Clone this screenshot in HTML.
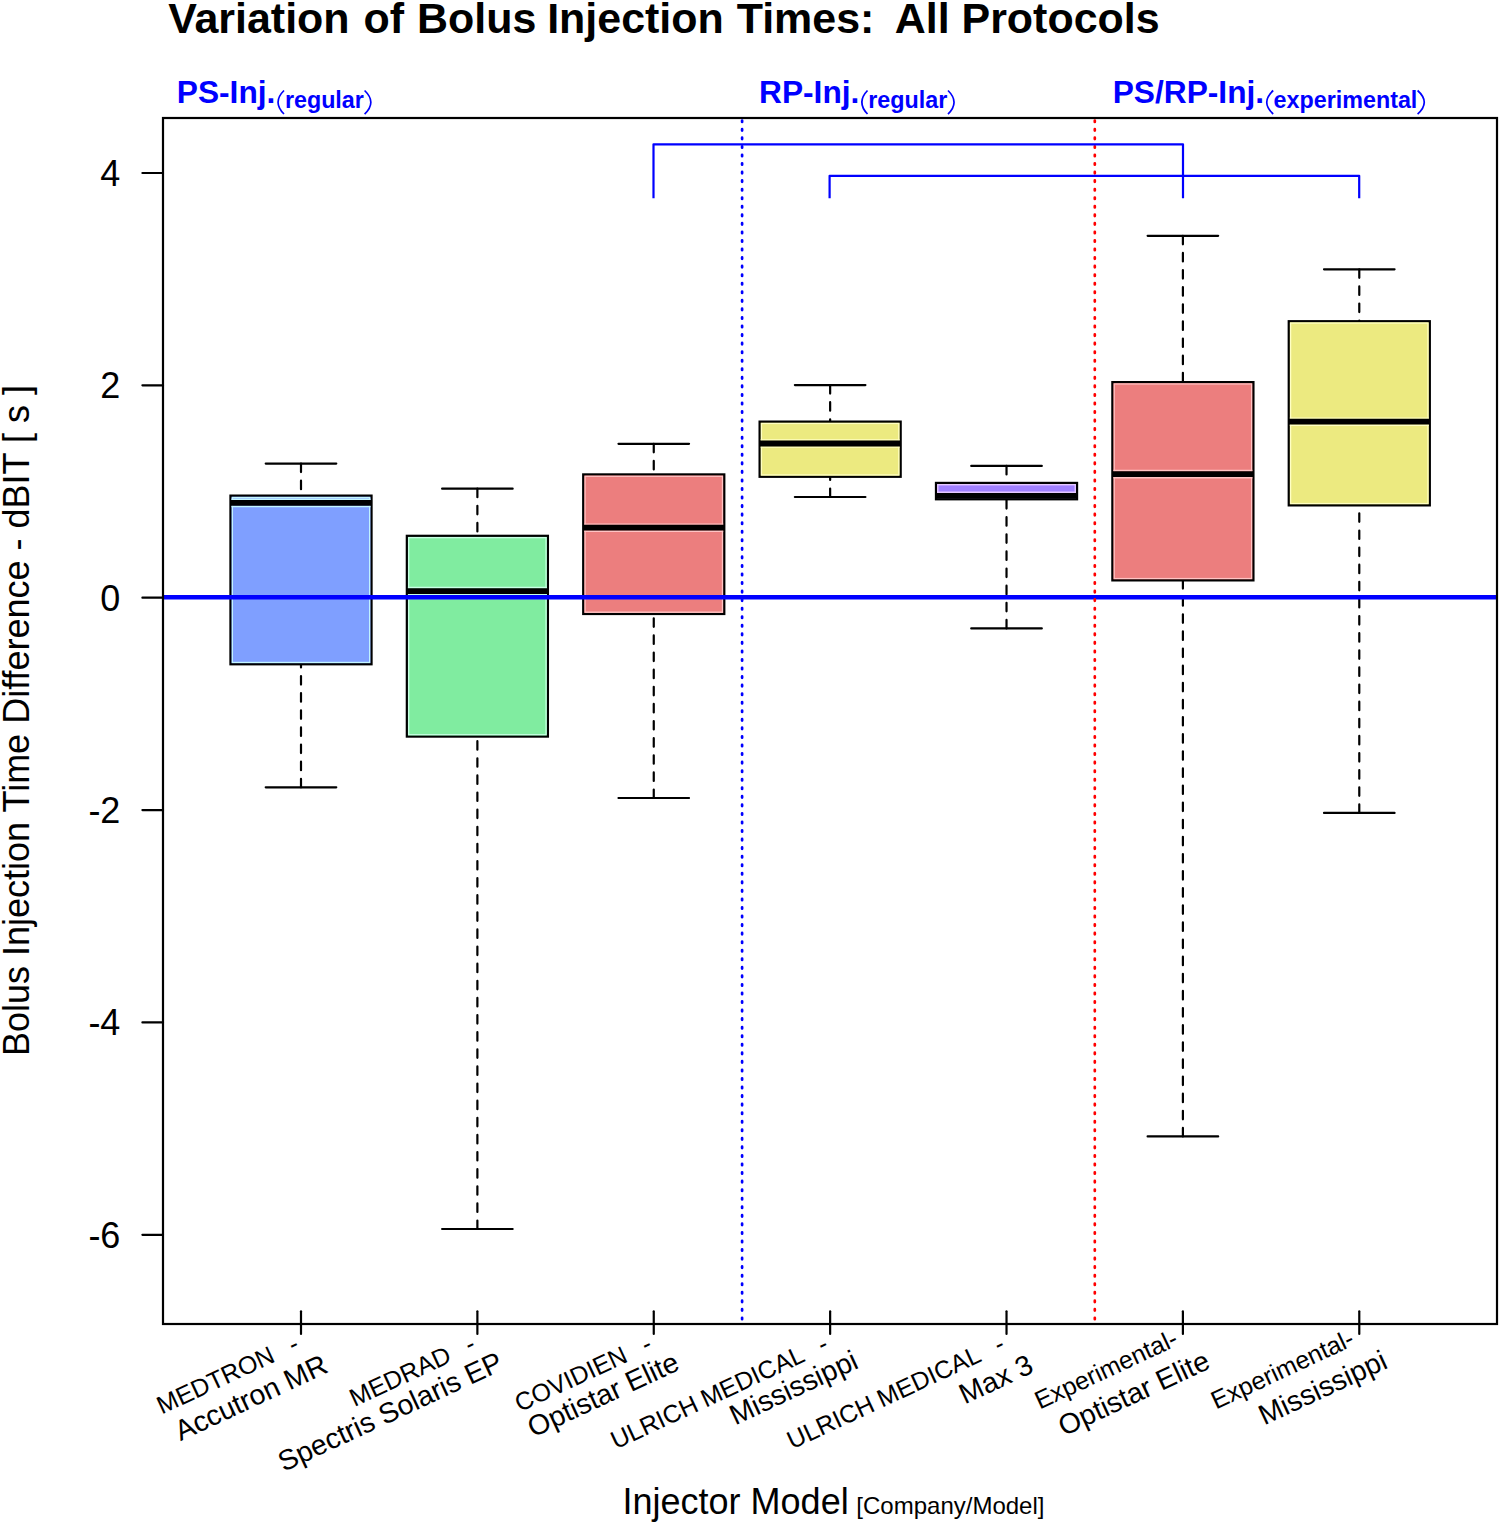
<!DOCTYPE html><html><head><meta charset="utf-8"><style>html,body{margin:0;padding:0;background:#fff;width:1499px;height:1523px;overflow:hidden}svg{display:block}text{font-family:"Liberation Sans",sans-serif;white-space:pre}</style></head><body>
<svg width="1499" height="1523" viewBox="0 0 1499 1523">
<rect x="0" y="0" width="1499" height="1523" fill="#fff"/>
<path d="M301.00 463.60V495.60M301.00 787.30V664.30" stroke="#000" stroke-width="2.2" stroke-dasharray="8.5 8.62" stroke-linecap="round" fill="none"/>
<path d="M265.72 463.60H336.28M265.72 787.30H336.28" stroke="#000" stroke-width="2.2" stroke-linecap="round" fill="none"/>
<rect x="230.45" y="495.60" width="141.10" height="168.70" fill="#7f9fff" stroke="#000" stroke-width="2.2" stroke-linejoin="miter"/>
<clipPath id="c1"><rect x="231.55" y="496.70" width="138.90" height="166.50"/></clipPath>
<g clip-path="url(#c1)" fill="none" stroke="#c4f6ff" stroke-width="1.4">
<rect x="232.25" y="497.40" width="137.50" height="165.10"/>
<path d="M230.45 499.30H371.55M230.45 506.50H371.55"/>
</g>
<path d="M230.45 502.90H371.55" stroke="#000" stroke-width="5.8" fill="none"/>
<path d="M477.38 488.70V535.80M477.38 1229.00V736.60" stroke="#000" stroke-width="2.2" stroke-dasharray="8.5 8.62" stroke-linecap="round" fill="none"/>
<path d="M442.10 488.70H512.66M442.10 1229.00H512.66" stroke="#000" stroke-width="2.2" stroke-linecap="round" fill="none"/>
<rect x="406.83" y="535.80" width="141.10" height="200.80" fill="#80eca0" stroke="#000" stroke-width="2.2" stroke-linejoin="miter"/>
<clipPath id="c2"><rect x="407.93" y="536.90" width="138.90" height="198.60"/></clipPath>
<g clip-path="url(#c2)" fill="none" stroke="#c8ffe4" stroke-width="1.4">
<rect x="408.63" y="537.60" width="137.50" height="197.20"/>
<path d="M406.83 587.50H547.93M406.83 594.70H547.93"/>
</g>
<path d="M406.83 591.10H547.93" stroke="#000" stroke-width="5.8" fill="none"/>
<path d="M653.76 443.80V474.40M653.76 798.00V614.00" stroke="#000" stroke-width="2.2" stroke-dasharray="8.5 8.62" stroke-linecap="round" fill="none"/>
<path d="M618.48 443.80H689.04M618.48 798.00H689.04" stroke="#000" stroke-width="2.2" stroke-linecap="round" fill="none"/>
<rect x="583.21" y="474.40" width="141.10" height="139.60" fill="#ec7e7e" stroke="#000" stroke-width="2.2" stroke-linejoin="miter"/>
<clipPath id="c3"><rect x="584.31" y="475.50" width="138.90" height="137.40"/></clipPath>
<g clip-path="url(#c3)" fill="none" stroke="#ffc4c4" stroke-width="1.4">
<rect x="585.01" y="476.20" width="137.50" height="136.00"/>
<path d="M583.21 524.10H724.31M583.21 531.30H724.31"/>
</g>
<path d="M583.21 527.70H724.31" stroke="#000" stroke-width="5.8" fill="none"/>
<path d="M830.14 385.10V421.60M830.14 497.00V476.80" stroke="#000" stroke-width="2.2" stroke-dasharray="8.5 8.62" stroke-linecap="round" fill="none"/>
<path d="M794.86 385.10H865.42M794.86 497.00H865.42" stroke="#000" stroke-width="2.2" stroke-linecap="round" fill="none"/>
<rect x="759.59" y="421.60" width="141.10" height="55.20" fill="#ecea80" stroke="#000" stroke-width="2.2" stroke-linejoin="miter"/>
<clipPath id="c4"><rect x="760.69" y="422.70" width="138.90" height="53.00"/></clipPath>
<g clip-path="url(#c4)" fill="none" stroke="#ffffc4" stroke-width="1.4">
<rect x="761.39" y="423.40" width="137.50" height="51.60"/>
<path d="M759.59 439.90H900.69M759.59 447.10H900.69"/>
</g>
<path d="M759.59 443.50H900.69" stroke="#000" stroke-width="5.8" fill="none"/>
<path d="M1006.52 465.90V482.90M1006.52 628.40V499.30" stroke="#000" stroke-width="2.2" stroke-dasharray="8.5 8.62" stroke-linecap="round" fill="none"/>
<path d="M971.24 465.90H1041.80M971.24 628.40H1041.80" stroke="#000" stroke-width="2.2" stroke-linecap="round" fill="none"/>
<rect x="935.97" y="482.90" width="141.10" height="16.40" fill="#a080ff" stroke="#000" stroke-width="2.2" stroke-linejoin="miter"/>
<clipPath id="c5"><rect x="937.07" y="484.00" width="138.90" height="14.20"/></clipPath>
<g clip-path="url(#c5)" fill="none" stroke="#e6c8ff" stroke-width="1.4">
<rect x="937.77" y="484.70" width="137.50" height="12.80"/>
<path d="M935.97 492.30H1077.07M935.97 499.50H1077.07"/>
</g>
<path d="M935.97 495.90H1077.07" stroke="#000" stroke-width="5.8" fill="none"/>
<path d="M1182.90 235.80V382.10M1182.90 1136.40V580.40" stroke="#000" stroke-width="2.2" stroke-dasharray="8.5 8.62" stroke-linecap="round" fill="none"/>
<path d="M1147.62 235.80H1218.18M1147.62 1136.40H1218.18" stroke="#000" stroke-width="2.2" stroke-linecap="round" fill="none"/>
<rect x="1112.35" y="382.10" width="141.10" height="198.30" fill="#ec7e7e" stroke="#000" stroke-width="2.2" stroke-linejoin="miter"/>
<clipPath id="c6"><rect x="1113.45" y="383.20" width="138.90" height="196.10"/></clipPath>
<g clip-path="url(#c6)" fill="none" stroke="#ffc4c4" stroke-width="1.4">
<rect x="1114.15" y="383.90" width="137.50" height="194.70"/>
<path d="M1112.35 470.50H1253.45M1112.35 477.70H1253.45"/>
</g>
<path d="M1112.35 474.10H1253.45" stroke="#000" stroke-width="5.8" fill="none"/>
<path d="M1359.28 269.30V321.20M1359.28 812.90V505.40" stroke="#000" stroke-width="2.2" stroke-dasharray="8.5 8.62" stroke-linecap="round" fill="none"/>
<path d="M1324.00 269.30H1394.56M1324.00 812.90H1394.56" stroke="#000" stroke-width="2.2" stroke-linecap="round" fill="none"/>
<rect x="1288.73" y="321.20" width="141.10" height="184.20" fill="#ecea80" stroke="#000" stroke-width="2.2" stroke-linejoin="miter"/>
<clipPath id="c7"><rect x="1289.83" y="322.30" width="138.90" height="182.00"/></clipPath>
<g clip-path="url(#c7)" fill="none" stroke="#ffffc4" stroke-width="1.4">
<rect x="1290.53" y="323.00" width="137.50" height="180.60"/>
<path d="M1288.73 418.10H1429.83M1288.73 425.30H1429.83"/>
</g>
<path d="M1288.73 421.70H1429.83" stroke="#000" stroke-width="5.8" fill="none"/>
<path d="M163 597.3H1497" stroke="#0000ff" stroke-width="4.6" fill="none"/>
<path d="M742.1 118V1324" stroke="#0000ff" stroke-width="2.7" stroke-dasharray="1.4 7.151" stroke-dashoffset="-2.6" stroke-linecap="round" fill="none"/>
<path d="M1094.8 118V1324" stroke="#ff0000" stroke-width="2.7" stroke-dasharray="1.4 7.151" stroke-dashoffset="-2.6" stroke-linecap="round" fill="none"/>
<path d="M653.5 198.2V144.3H1183.0V198.2M829.6 198.2V175.8H1359.2V198.2" stroke="#0000ff" stroke-width="2.2" fill="none" stroke-linejoin="round"/>
<rect x="163" y="118" width="1334" height="1206" fill="none" stroke="#000" stroke-width="2.2"/>
<path d="M142.4 172.98H163" stroke="#000" stroke-width="2.2" stroke-linecap="round"/>
<text x="120.4" y="185.88" font-size="36" text-anchor="end">4</text>
<path d="M142.4 385.34H163" stroke="#000" stroke-width="2.2" stroke-linecap="round"/>
<text x="120.4" y="398.24" font-size="36" text-anchor="end">2</text>
<path d="M142.4 597.70H163" stroke="#000" stroke-width="2.2" stroke-linecap="round"/>
<text x="120.4" y="610.60" font-size="36" text-anchor="end">0</text>
<path d="M142.4 810.06H163" stroke="#000" stroke-width="2.2" stroke-linecap="round"/>
<text x="120.4" y="822.96" font-size="36" text-anchor="end">-2</text>
<path d="M142.4 1022.42H163" stroke="#000" stroke-width="2.2" stroke-linecap="round"/>
<text x="120.4" y="1035.32" font-size="36" text-anchor="end">-4</text>
<path d="M142.4 1234.78H163" stroke="#000" stroke-width="2.2" stroke-linecap="round"/>
<text x="120.4" y="1247.68" font-size="36" text-anchor="end">-6</text>
<path d="M301.00 1311.3V1333.9" stroke="#000" stroke-width="2.2" stroke-linecap="round"/>
<path d="M477.38 1311.3V1333.9" stroke="#000" stroke-width="2.2" stroke-linecap="round"/>
<path d="M653.76 1311.3V1333.9" stroke="#000" stroke-width="2.2" stroke-linecap="round"/>
<path d="M830.14 1311.3V1333.9" stroke="#000" stroke-width="2.2" stroke-linecap="round"/>
<path d="M1006.52 1311.3V1333.9" stroke="#000" stroke-width="2.2" stroke-linecap="round"/>
<path d="M1182.90 1311.3V1333.9" stroke="#000" stroke-width="2.2" stroke-linecap="round"/>
<path d="M1359.28 1311.3V1333.9" stroke="#000" stroke-width="2.2" stroke-linecap="round"/>
<text x="300.68" y="1349.81" font-size="25" word-spacing="-0.8" text-anchor="end" transform="rotate(-25 300.68 1349.81)">MEDTRON   -</text>
<text x="329.71" y="1371.65" font-size="28.5" text-anchor="end" transform="rotate(-25 329.71 1371.65)">Accutron MR</text>
<text x="477.06" y="1349.81" font-size="25" word-spacing="-0.8" text-anchor="end" transform="rotate(-25 477.06 1349.81)">MEDRAD   -</text>
<text x="504.83" y="1368.93" font-size="28.5" text-anchor="end" transform="rotate(-25 504.83 1368.93)">Spectris Solaris EP</text>
<text x="653.44" y="1349.81" font-size="25" word-spacing="-0.8" text-anchor="end" transform="rotate(-25 653.44 1349.81)">COVIDIEN   -</text>
<text x="681.21" y="1368.93" font-size="28.5" text-anchor="end" transform="rotate(-25 681.21 1368.93)">Optistar Elite</text>
<text x="829.82" y="1349.81" font-size="25" word-spacing="-0.8" text-anchor="end" transform="rotate(-25 829.82 1349.81)">ULRICH MEDICAL   -</text>
<text x="860.09" y="1367.21" font-size="28.5" text-anchor="end" transform="rotate(-25 860.09 1367.21)">Mississippi</text>
<text x="1006.20" y="1349.81" font-size="25" word-spacing="-0.8" text-anchor="end" transform="rotate(-25 1006.20 1349.81)">ULRICH MEDICAL   -</text>
<text x="1035.23" y="1371.65" font-size="28.5" text-anchor="end" transform="rotate(-25 1035.23 1371.65)">Max 3</text>
<text x="1179.52" y="1344.42" font-size="25" text-anchor="end" transform="rotate(-25 1179.52 1344.42)">Experimental-</text>
<text x="1211.86" y="1367.46" font-size="28.5" text-anchor="end" transform="rotate(-25 1211.86 1367.46)">Optistar Elite</text>
<text x="1355.90" y="1344.42" font-size="25" text-anchor="end" transform="rotate(-25 1355.90 1344.42)">Experimental-</text>
<text x="1389.23" y="1367.21" font-size="28.5" text-anchor="end" transform="rotate(-25 1389.23 1367.21)">Mississippi</text>
<text y="33" font-size="42.96" font-weight="bold"><tspan x="168.15">Variation</tspan><tspan x="363.5">of</tspan><tspan x="417.0">Bolus</tspan><tspan x="547.2">Injection</tspan><tspan x="736.7">Times:</tspan><tspan x="894.7">All</tspan><tspan x="961.5">Protocols</tspan></text>
<text x="176.8" y="102.8" font-size="31.7" font-weight="bold" fill="#0000ff">PS-Inj.</text>
<text x="284.9" y="108.4" font-size="23.3" font-weight="bold" fill="#0000ff">regular</text>
<path d="M284.00 90.50Q272.10 102.25 284.00 114.00" stroke="#0000ff" stroke-width="1.7" fill="none"/>
<path d="M364.60 90.50Q377.10 102.35 364.60 114.20" stroke="#0000ff" stroke-width="1.7" fill="none"/>
<text x="759.0" y="102.8" font-size="31.7" font-weight="bold" fill="#0000ff">RP-Inj.</text>
<text x="868.3" y="108.4" font-size="23.3" font-weight="bold" fill="#0000ff">regular</text>
<path d="M867.50 90.50Q856.20 102.25 867.50 114.00" stroke="#0000ff" stroke-width="1.7" fill="none"/>
<path d="M948.00 90.50Q960.10 102.35 948.00 114.20" stroke="#0000ff" stroke-width="1.7" fill="none"/>
<text x="1112.7" y="102.8" font-size="31.7" font-weight="bold" fill="#0000ff">PS/RP-Inj.</text>
<text x="1273.6" y="108.4" font-size="23.3" font-weight="bold" fill="#0000ff">experimental</text>
<path d="M1273.20 90.50Q1260.30 102.25 1273.20 114.00" stroke="#0000ff" stroke-width="1.7" fill="none"/>
<path d="M1417.60 90.50Q1430.90 102.35 1417.60 114.20" stroke="#0000ff" stroke-width="1.7" fill="none"/>
<text x="29.2" y="1056" font-size="36" transform="rotate(-90 29.2 1056)">Bolus Injection Time Difference - dBIT [ s ]</text>
<text x="622.55" y="1513.7" font-size="36">Injector Model</text>
<text x="856.35" y="1513.6" font-size="24">[Company/Model]</text>
</svg></body></html>
